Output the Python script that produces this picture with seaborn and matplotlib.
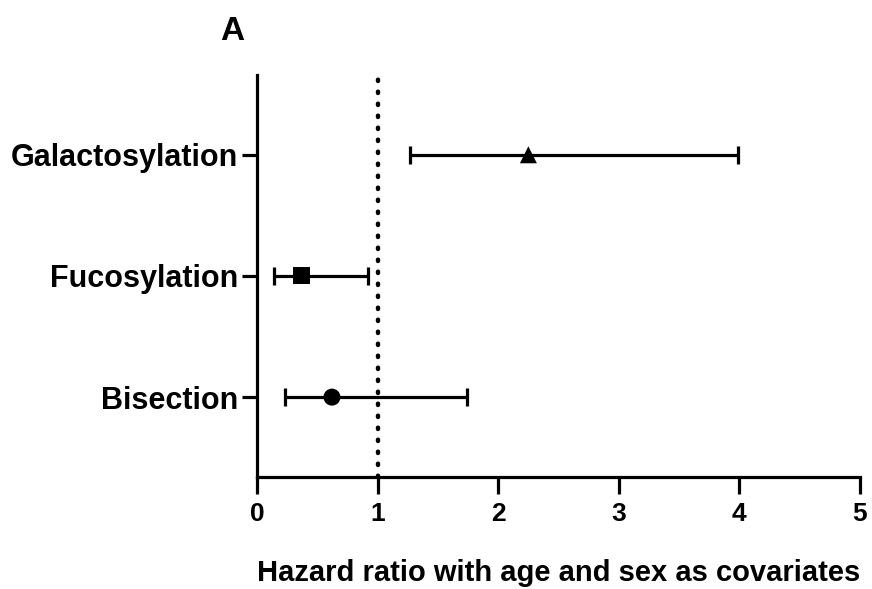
import matplotlib
matplotlib.use("Agg")
import pandas as pd
import seaborn as sns
import matplotlib.pyplot as plt

#data
glycans = ['Galactosylation', 'Fucosylation', 'Bisection']
hr = [2.25, 0.37, 0.62]
ci_low = [1.27, 0.14, 0.23]
ci_high = [3.99, 0.92, 1.74]
marker_shapes = ['^', 's', 'o']

df = pd.DataFrame({'glycan': glycans, 'hr': hr, 'low': ci_low, 'high': ci_high})
df['pos'] = list(range(len(glycans)))[::-1]

sns.set_style('ticks')
plt.rcParams['font.family'] = ['Liberation Sans', 'DejaVu Sans']
plt.rcParams['font.weight'] = 'bold'
plt.rcParams['text.color'] = 'black'
plt.rcParams['axes.labelcolor'] = 'black'
plt.rcParams['xtick.color'] = 'black'
plt.rcParams['ytick.color'] = 'black'

fig = plt.figure(figsize=(8.72, 5.89), dpi=100)
ax = fig.add_axes([0.295, 0.19, 0.691, 0.683])

#reference line at HR = 1
ax.axvline(1, color='black', lw=3.2, linestyle=(0, (0.3, 2.4)),
           dash_capstyle='round', zorder=1)

#confidence intervals
ax.errorbar(df['hr'], df['pos'],
            xerr=[df['hr'] - df['low'], df['high'] - df['hr']],
            fmt='none', ecolor='black', elinewidth=2.3, capsize=6.5,
            capthick=2.3, zorder=2)

#point estimates
sns.scatterplot(data=df, x='hr', y='pos', style='glycan',
                markers=dict(zip(glycans, marker_shapes)),
                color='black', s=150, edgecolor='black', linewidth=0,
                legend=False, ax=ax, zorder=3)

ax.set_xlim(0, 5)
ax.set_ylim(-0.66, 2.66)
ax.set_xticks(range(6))
ax.set_yticks(df['pos'])
ax.set_yticklabels(df['glycan'])
ax.tick_params(axis='x', width=2.3, length=12, pad=6, labelsize=19)
ax.tick_params(axis='y', width=2.3, length=10.5, pad=3, labelsize=22)
for lab in ax.get_xticklabels() + ax.get_yticklabels():
    lab.set_fontweight('bold')
    lab.set_color('black')

sns.despine(ax=ax)
for sp in ['left', 'bottom']:
    ax.spines[sp].set_linewidth(2.3)
    ax.spines[sp].set_color('black')

ax.set_xlabel('Hazard ratio with age and sex as covariates', fontsize=21,
              fontweight='bold', labelpad=24)
ax.set_ylabel('')
fig.text(0.253, 0.932, 'A', fontsize=24, fontweight='bold', color='black')

fig.savefig('out.png', dpi=100, facecolor='white')
